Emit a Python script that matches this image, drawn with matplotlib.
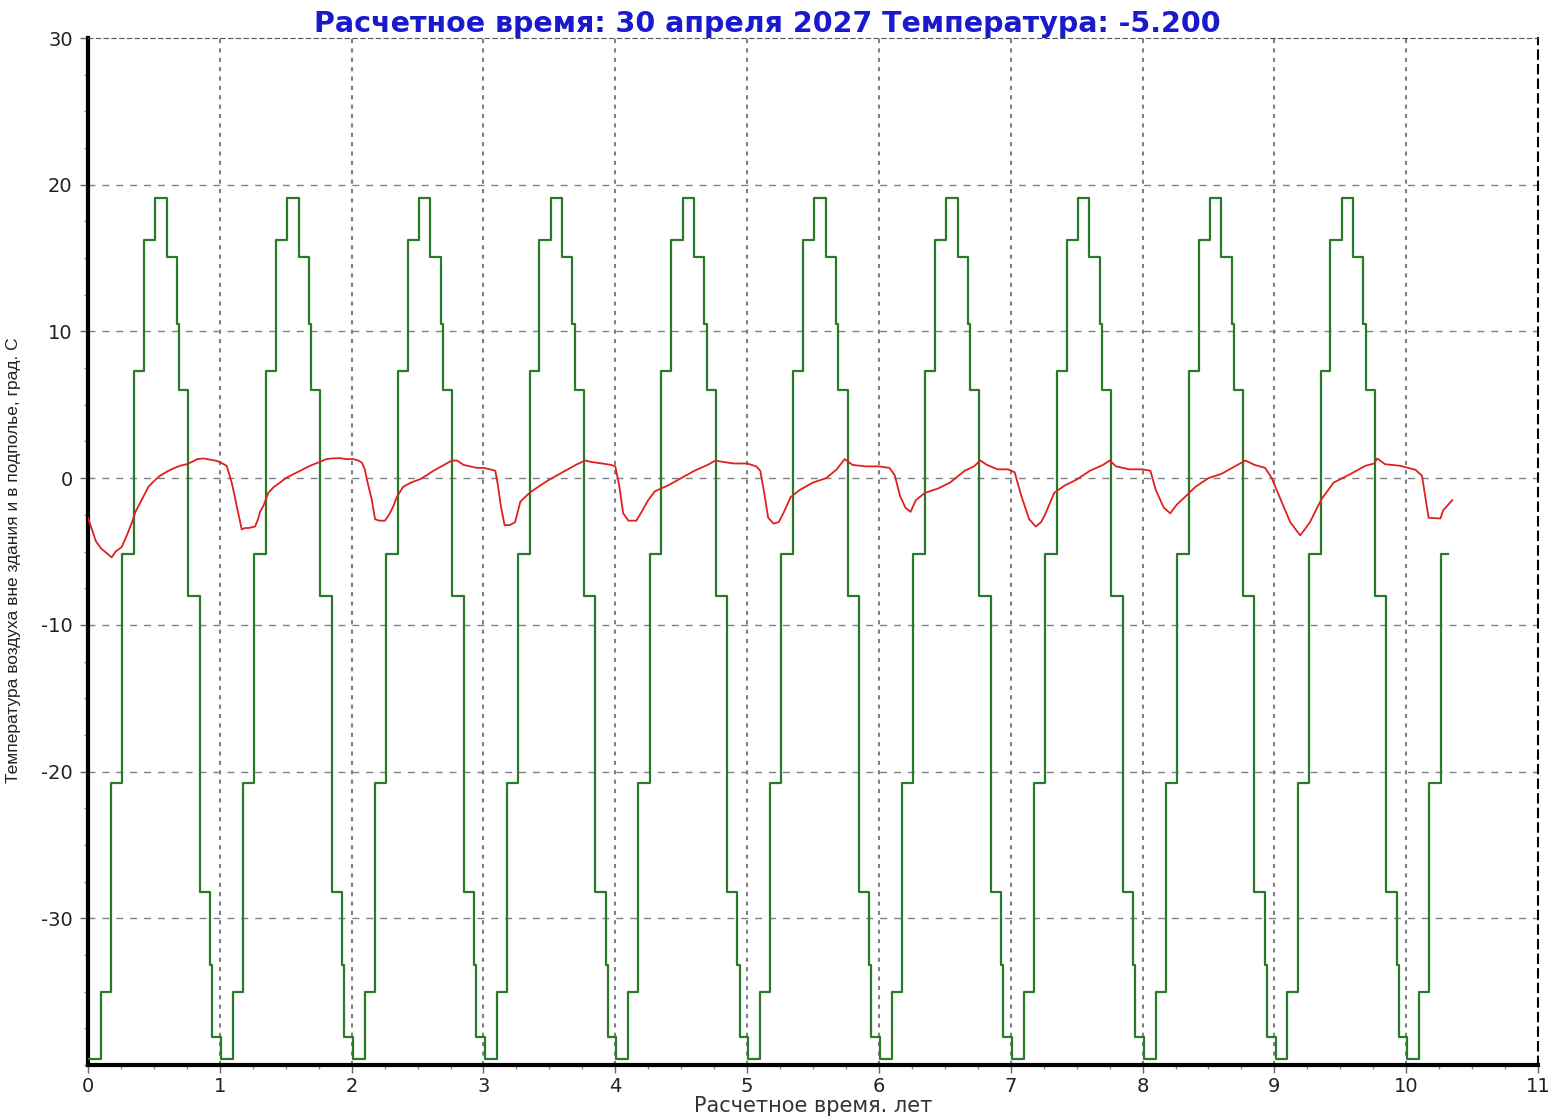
import numpy as np
import matplotlib
matplotlib.use('Agg')
import matplotlib.pyplot as plt
from matplotlib.ticker import MultipleLocator

# ---------------- data ----------------
# outside air temperature: one climate year of step breakpoints (fraction of year) and values
air_year_t = [0.009, 0.099, 0.176, 0.261, 0.350, 0.425, 0.510, 0.597, 0.675, 0.693,
              0.762, 0.849, 0.927, 0.943]
air_year_v = [-39.6, -35.0, -20.8, -5.2, 7.3, 16.2, 19.1, 15.1, 10.5, 6.0,
              -8.0, -28.2, -33.2, -38.1]
n_years = 11
t_end = 10.32

# underfloor (podpolye) temperature
red_t = [0.00, 0.03, 0.06, 0.10, 0.14, 0.18, 0.21, 0.255, 0.29, 0.33, 0.36, 0.40, 0.458, 0.50,
         0.546, 0.60, 0.647, 0.70, 0.749, 0.787, 0.83, 0.875, 0.93, 0.976, 1.02, 1.052, 1.07,
         1.09, 1.11, 1.128, 1.15, 1.166, 1.19, 1.217, 1.267, 1.29, 1.305, 1.33, 1.368, 1.41,
         1.457, 1.50, 1.558, 1.61, 1.66, 1.70, 1.748, 1.81, 1.86, 1.91, 1.96, 2.013, 2.05,
         2.077, 2.10, 2.115, 2.135, 2.152, 2.178, 2.21, 2.253, 2.29, 2.317, 2.342, 2.39, 2.45,
         2.52, 2.57, 2.62, 2.67, 2.72, 2.76, 2.80, 2.85, 2.90, 2.95, 3.00, 3.05, 3.09, 3.11,
         3.13, 3.16, 3.20, 3.24, 3.28, 3.35, 3.43, 3.50, 3.60, 3.70, 3.77, 3.82, 3.90, 3.97,
         4.00, 4.03, 4.06, 4.10, 4.16, 4.20, 4.25, 4.30, 4.40, 4.50, 4.60, 4.70, 4.76, 4.82,
         4.90, 5.00, 5.07, 5.10, 5.13, 5.16, 5.20, 5.24, 5.28, 5.33, 5.40, 5.50, 5.60, 5.68,
         5.74, 5.80, 5.90, 6.00, 6.08, 6.12, 6.16, 6.20, 6.24, 6.28, 6.35, 6.45, 6.54, 6.65,
         6.72, 6.77, 6.82, 6.90, 6.98, 7.03, 7.08, 7.14, 7.19, 7.23, 7.26, 7.33, 7.41, 7.50,
         7.60, 7.70, 7.75, 7.80, 7.90, 8.00, 8.06, 8.10, 8.16, 8.21, 8.26, 8.32, 8.40, 8.50,
         8.60, 8.70, 8.78, 8.85, 8.93, 8.98, 9.05, 9.12, 9.196, 9.23, 9.27, 9.32, 9.36, 9.45,
         9.575, 9.69, 9.757, 9.78, 9.84, 9.955, 10.07, 10.12, 10.17, 10.26, 10.28, 10.35]
red_v = [-2.7, -3.5, -4.3, -4.8, -5.1, -5.4, -5.0, -4.7, -4.0, -3.1, -2.3, -1.6, -0.6, -0.2,
         0.16, 0.45, 0.66, 0.85, 0.95, 1.1, 1.3, 1.34, 1.25, 1.18, 1.0, 0.84, 0.3,
         -0.3, -1.1, -1.9, -2.8, -3.5, -3.4, -3.4, -3.3, -2.8, -2.3, -1.9, -1.0, -0.6,
         -0.3, 0.0, 0.27, 0.5, 0.73, 0.9, 1.07, 1.3, 1.35, 1.36, 1.3, 1.3, 1.2,
         1.07, 0.6, -0.07, -0.8, -1.43, -2.8, -2.9, -2.9, -2.4, -1.9, -1.3, -0.6, -0.3,
         -0.07, 0.2, 0.5, 0.75, 1.0, 1.2, 1.2, 0.9, 0.8, 0.7, 0.7, 0.6, 0.5, -0.5,
         -1.8, -3.2, -3.2, -3.0, -1.6, -1.0, -0.5, -0.1, 0.4, 0.9, 1.2, 1.1, 1.0, 0.9,
         0.8, -0.5, -2.4, -2.9, -2.9, -2.3, -1.5, -0.9, -0.5, 0.0, 0.5, 0.9, 1.2, 1.1,
         1.0, 1.0, 0.8, 0.5, -1.0, -2.7, -3.1, -3.0, -2.3, -1.3, -0.8, -0.3, 0.0, 0.6,
         1.3, 0.9, 0.8, 0.8, 0.7, 0.2, -1.2, -2.0, -2.3, -1.5, -1.0, -0.7, -0.3, 0.5,
         0.8, 1.2, 0.9, 0.6, 0.6, 0.4, -1.2, -2.8, -3.3, -3.0, -2.5, -1.0, -0.5, -0.1,
         0.5, 0.9, 1.2, 0.8, 0.6, 0.6, 0.5, -0.8, -2.0, -2.4, -1.8, -1.3, -0.6, 0.0,
         0.3, 0.8, 1.2, 0.9, 0.7, 0.0, -1.5, -3.0, -3.9, -3.5, -3.0, -2.1, -1.4, -0.3,
         0.27, 0.84, 1.0, 1.34, 0.95, 0.84, 0.57, 0.16, -2.7, -2.75, -2.2, -1.5]

title_text = 'Расчетное время: 30 апреля 2027 Температура: -5.200'
xlabel_text = 'Расчетное время. лет'
ylabel_text = 'Температура воздуха вне здания и в подполье, град. С'

# the same climate year repeats every year
air_t = np.concatenate([np.array(air_year_t) + k for k in range(n_years)])
air_v = np.tile(air_year_v, n_years)
keep = air_t < t_end
air_t = np.append(air_t[keep], t_end)
air_v = np.append(air_v[keep], air_v[keep][-1])
air_t[0] = 0.0

# ---------------- plot ----------------
plt.rcParams['font.family'] = ['DejaVu Sans']
plt.rcParams['axes.unicode_minus'] = False

fig = plt.figure(figsize=(15.5, 11.2), dpi=100)
ax = fig.add_axes([88 / 1550, 1 - 1065 / 1120, 1450 / 1550, 1027 / 1120])

ax.step(air_t, air_v, where='post', color='#2a7a2a', lw=1.6, zorder=3)
ax.plot(red_t, red_v, color='#e02020', lw=1.3, zorder=4)

ax.set_xlim(0, 11)
ax.set_ylim(-40, 30)
ax.xaxis.set_major_locator(MultipleLocator(1))
ax.xaxis.set_minor_locator(MultipleLocator(0.25))
ax.set_yticks([-30, -20, -10, 0, 10, 20, 30])
ax.yaxis.set_minor_locator(MultipleLocator(2.5))

for yy in [-30, -20, -10, 0, 10, 20]:
    ax.axhline(yy, color='#808080', lw=1.0, ls=(0, (5, 5)), zorder=1)
for xx in range(1, 11):
    ax.axvline(xx, color='#808080', lw=1.5, ls=(0, (2, 2.5)), zorder=1)

ax.spines['left'].set_linewidth(3)
ax.spines['bottom'].set_linewidth(3)
ax.spines['top'].set_linestyle((0, (4, 3)))
ax.spines['top'].set_color('#555555')
ax.spines['right'].set_linestyle((0, (4, 3)))
ax.spines['right'].set_linewidth(1.5)

ax.tick_params(axis='both', which='major', length=6, width=1, colors='#666666',
               labelcolor='#222222', labelsize=14)
ax.tick_params(axis='both', which='minor', length=3, width=1, colors='#888888')
ax.tick_params(axis='y', pad=5)
ax.tick_params(axis='x', pad=3)

fig.text(0.495, 0.991, title_text, ha='center', va='top', fontsize=20.5,
         fontweight='bold', color='#1a1acc')
ax.set_xlabel(xlabel_text, fontsize=15, color='#333333', labelpad=0)
fig.text(0.009, 0.5, ylabel_text, rotation=90, ha='center', va='center', fontsize=12.5,
         color='#222222', family=['Liberation Sans Narrow', 'Liberation Sans'])

plt.savefig('out.png', dpi=100)
